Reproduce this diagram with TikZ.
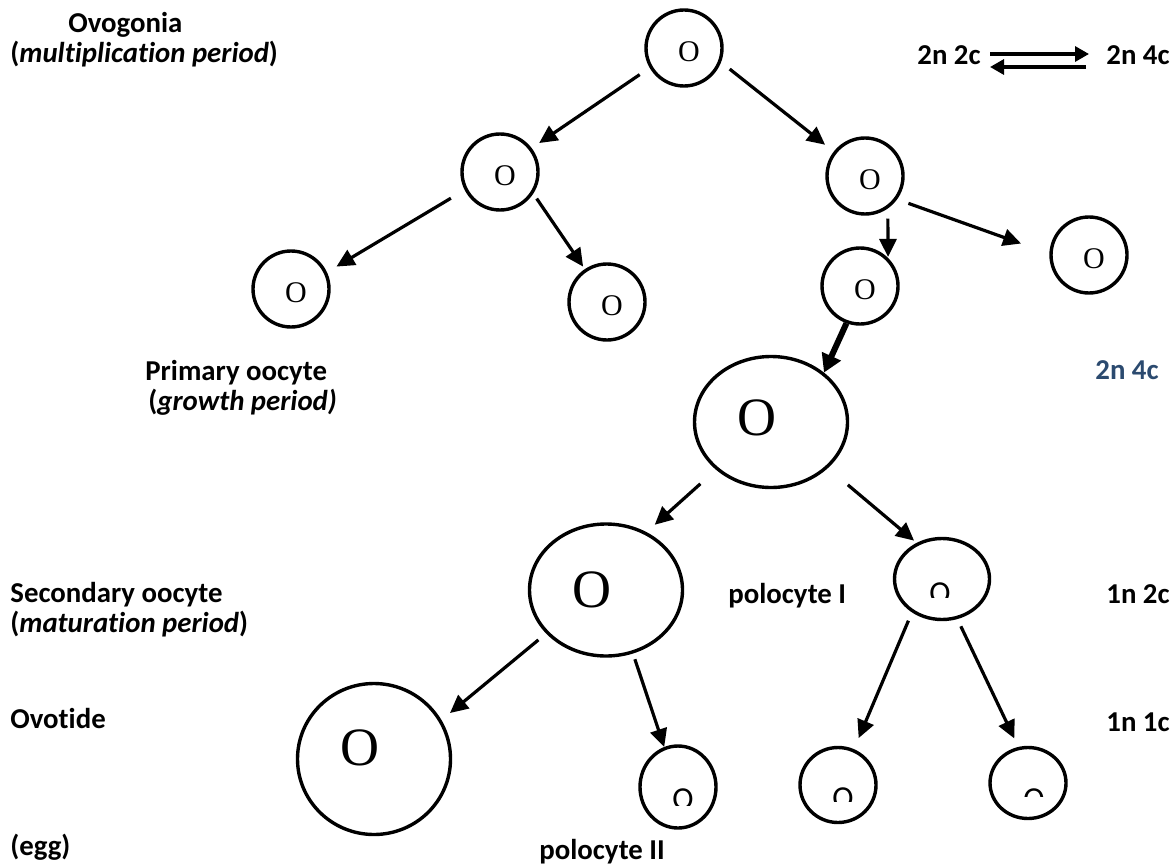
\documentclass[tikz,border=0pt]{standalone}
\usepackage{fontspec}
\usepackage{xcolor}
\usepackage{tikz}
\usetikzlibrary{arrows.meta,shapes.geometric}
\newfontfamily\calibri[Ligatures=NoCommon]{Carlito}
\newfontfamily\cellserif{Liberation Serif}
\newcommand\stagefont{\calibri\bfseries\fontsize{14.4}{17}\selectfont}
\newcommand\smallofont{\cellserif\fontsize{15}{18}\selectfont}
\newcommand\bigofont{\cellserif\fontsize{27}{32}\selectfont}
\newcommand\cutfont{\calibri\fontsize{16}{19}\selectfont}
\definecolor{labelBlue}{HTML}{2B4A6F}

\begin{document}
\begin{tikzpicture}[
  x=0.5pt, y=-0.5pt,
  stage/.style={font=\stagefont, inner sep=0pt, anchor=base west},
  cell/.style={draw, circle, line width=1.7pt, inner sep=0pt, minimum size=38pt,
    label={[font=\smallofont, xshift=2.5pt, yshift=-2pt]center:O}},
  egg/.style={draw, ellipse, line width=1.7pt, inner sep=0pt,
    label={[font=\bigofont, xshift=-7pt, yshift=#1]center:O}},
  polo/.style={draw, ellipse, line width=1.7pt, inner sep=0pt},
  cut/.style={font=\cutfont, inner sep=0pt, anchor=base},
  arrow/.style={-{Triangle[length=9pt,width=8.5pt]}, line width=1.6pt},
]
\useasboundingbox (0,0) rectangle (1176,866);

% === Stage labels (left) ===
\node[stage] (ovogonia) at (68,33) {Ovogonia};
\node[stage] (multi) at (10,63) {(\textit{multiplication period})};
\node[stage] (primary) at (145,380) {Primary oocyte};
\node[stage] (growth) at (148,410) {(\textit{growth period)}};
\node[stage] (secondary) at (10,602) {Secondary oocyte};
\node[stage] (matur) at (10,632) {(\textit{maturation period})};
\node[stage] (ovotide) at (10,728) {Ovotide};
\node[stage] (eggtxt) at (10,855) {(egg)};
\node[stage] (polItxt) at (728,603) {polocyte I};
\node[stage] (polIItxt) at (539,859) {polocyte II};

% === Chromosome sets (right) ===
\node[stage] (t22) at (917,65) {2n 2c};
\node[stage] (t24) at (1106,65) {2n 4c};
\node[stage, text=labelBlue] (t24b) at (1095,379) {2n 4c};
\node[stage] (t12) at (1106,603) {1n 2c};
\node[stage] (t11) at (1106,731) {1n 1c};

% === Ovogonia ===
\node[cell] (og) at (684,48) {};
\node[cell] (ogL) at (500,172) {};
\node[cell] (ogR) at (865,176) {};
\node[cell] (ogLL) at (291,289) {};
\node[cell] (ogLR) at (607,302) {};
\node[cell] (ogRL) at (860,286) {};
\node[cell] (ogRR) at (1089,255) {};

% === Oocytes, ovotide, polocytes ===
\node[egg=2pt, minimum width=76.5pt, minimum height=65.5pt] (prim) at (771,422) {};
\node[egg=0pt, minimum width=76.5pt, minimum height=66pt] (sec) at (606,590) {};
\node[egg=5.5pt, minimum width=76.5pt, minimum height=75.5pt] (ovo) at (374,759) {};
\node[polo, minimum width=47.5pt, minimum height=40.5pt] (polI) at (942,579) {};
\node[polo, minimum width=38pt, minimum height=41pt] (polII) at (678,787) {};
\node[polo, minimum width=38pt, minimum height=37.5pt] (polA) at (838,785) {};
\node[polo, minimum width=38pt, minimum height=35.5pt] (polB) at (1028,783) {};

% clipped letters in the polocytes
\foreach \n/\x/\b/\c in {cutI/940/603/597, cutII/683/809/805, cutA/843/808/801, cutB/1034/809/796} {
  \begin{scope}
    \clip (\x-18,\b-30) rectangle (\x+18,\c);
    \node[cut] (\n) at (\x,\b) {O};
  \end{scope}
}

% === Arrows ===
\draw[arrow, shorten <=6pt, shorten >=4.5pt] (og.210) -- (ogL.37);
\draw[arrow, shorten <=5.5pt, shorten >=5.5pt] (og.339) -- (ogR.142);
\draw[arrow, shorten <=8pt, shorten >=5.5pt] (ogL.207) -- (ogLL.25);
\draw[arrow, shorten <=3pt, shorten >=1.5pt] (ogL.327) -- (ogLR.124);
\draw[arrow, shorten <=5pt, shorten >=0.5pt] (ogR.305) -- (ogRL.45);
\draw[arrow, shorten <=6pt, shorten >=15pt] (ogR.324) -- (ogRR.178);
\draw[arrow, line width=3pt, -{Triangle[length=9pt,width=10pt]}] (ogRL.250) -- (prim.43);
\draw[arrow, shorten <=10.5pt, shorten >=5.5pt] (prim.221) -- (sec.55);
\draw[arrow, shorten <=13pt, shorten >=1.7pt] (prim.321) -- (polI.125);
\draw[arrow, shorten <=5pt, shorten >=5.5pt] (sec.216) -- (ovo.30);
\draw[arrow, shorten <=3pt] (sec.293) -- (polII.109);
\draw[arrow, shorten <=4.5pt, shorten >=6pt] (polI.228) -- (polA.66);
\draw[arrow, shorten <=4pt, shorten >=4.7pt] (polI.291) -- (polB.105);

% equilibrium arrows
\draw[arrow, -{Triangle[length=7pt,width=7.5pt]}, shorten <=4.5pt, shorten >=8.5pt]
  ([yshift=5.5pt]t22.base east) -- ([yshift=5.5pt]t24.base west);
\draw[arrow, -{Triangle[length=7pt,width=7.5pt]}, shorten <=10pt, shorten >=4.5pt]
  ([yshift=-1pt]t24.base west) -- ([yshift=-1pt]t22.base east);

\end{tikzpicture}
\end{document}
